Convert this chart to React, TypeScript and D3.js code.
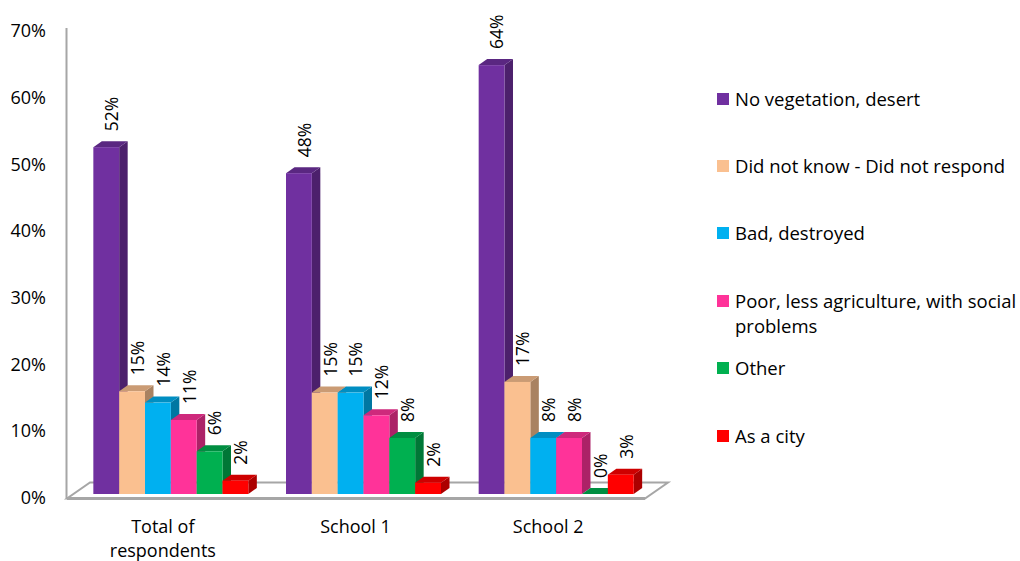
import React from "react";
import * as d3 from "d3";

const categories = ["Total of respondents", "School 1", "School 2"];
const categoryLines = [["Total of", "respondents"], ["School 1"], ["School 2"]];
const seriesNames = [
  "No vegetation, desert",
  "Did not know - Did not respond",
  "Bad, destroyed",
  "Poor, less agriculture, with social problems",
  "Other",
  "As a city",
];
const legendLines = [
  ["No vegetation, desert"],
  ["Did not know - Did not respond"],
  ["Bad, destroyed"],
  ["Poor, less agriculture, with social", "problems"],
  ["Other"],
  ["As a city"],
];
const seriesColors = ["#7030A0", "#FAC090", "#00B0F0", "#FF3399", "#00B050", "#FF0000"];
// values per category, in series order (percent)
const totalValues = [52, 15.4, 13.7, 11.1, 6.4, 2.0];
const school1Values = [48.1, 15.2, 15.2, 11.8, 8.4, 1.7];
const school2Values = [64.3, 16.8, 8.4, 8.4, 0, 2.9];
const valueLabels = [
  ["52%", "15%", "14%", "11%", "6%", "2%"],
  ["48%", "15%", "15%", "12%", "8%", "2%"],
  ["64%", "17%", "8%", "8%", "0%", "3%"],
];
const yTicks = [0, 10, 20, 30, 40, 50, 60, 70];

const W = 1020;
const H = 561;
const FONT = "'Open Sans', sans-serif";
const DX = 8.5;
const DY = 6;

export default function App() {
  const data = [totalValues, school1Values, school2Values];
  const y = d3.scaleLinear().domain([0, 70]).range([494, 27.1]);
  const x = d3
    .scaleBand<string>()
    .domain(categories)
    .range([74.5, 652.5])
    .paddingInner(0.1955)
    .paddingOuter(0.0978);
  const inner = d3
    .scaleBand<string>()
    .domain(seriesNames)
    .range([0, x.bandwidth()]);
  const bw = inner.bandwidth();

  // floor
  const fl = 67, fr = 645, fy = 498.5, by = 482.5, fdx = 23;

  const bars: React.ReactNode[] = [];
  const labels: React.ReactNode[] = [];
  categories.forEach((c, ci) => {
    seriesNames.forEach((s, si) => {
      const v = data[ci][si];
      const x0 = (x(c) as number) + (inner(s) as number);
      const x1 = x0 + bw;
      const yv = y(v);
      const y0 = y(0);
      const col = d3.color(seriesColors[si])!;
      const top = col.darker(0.6).formatHex();
      const side = col.darker(1.1).formatHex();
      bars.push(
        <g key={`b${ci}-${si}`}>
          <polygon
            points={`${x1},${yv} ${x1 + DX},${yv - DY} ${x1 + DX},${y0 - DY} ${x1},${y0}`}
            fill={side}
          />
          <polygon
            points={`${x0},${yv} ${x0 + DX},${yv - DY} ${x1 + DX},${yv - DY} ${x1},${yv}`}
            fill={top}
          />
          {v > 0 && <rect x={x0} y={yv} width={bw} height={y0 - yv} fill={seriesColors[si]} />}
        </g>
      );
      const lx = x0 + bw / 2 + 5.5;
      const ly = yv - DY - 10;
      labels.push(
        <text
          key={`l${ci}-${si}`}
          transform={`translate(${lx},${ly}) rotate(-90)`}
          dy="0.36em"
          fontSize={17.5}
          fontFamily={FONT}
          fill="#000"
        >
          {valueLabels[ci][si]}
        </text>
      );
    });
  });

  const legendRows = [106, 173, 240, 308, 375, 443];

  return (
    <svg width={W} height={H} style={{ position: "absolute", left: 0, top: 0, background: "#fff" }}>
      <rect width={W} height={H} fill="#fff" />
      {/* floor */}
      <polygon
        points={`${fl},${fy} ${fr},${fy} ${fr + fdx},${by} ${fl + fdx},${by}`}
        fill="#fff"
        stroke="#A6A6A6"
        strokeWidth={2}
      />
      <line x1={fl} x2={fr} y1={fy} y2={fy} stroke="#A6A6A6" strokeWidth={3} />
      {/* vertical axis */}
      <line x1={66.5} x2={66.5} y1={28} y2={fy} stroke="#A6A6A6" strokeWidth={2} />
      {yTicks.map((t) => (
        <text
          key={`t${t}`}
          x={46}
          y={y(t) + 10}
          textAnchor="end"
          fontSize={18}
          fontFamily={FONT}
          fill="#000"
        >
          {`${t}%`}
        </text>
      ))}
      {bars}
      {labels}
      {categories.map((c, ci) => (
        <text
          key={`c${ci}`}
          x={(x(c) as number) + x.bandwidth() / 2 - 8}
          y={533}
          textAnchor="middle"
          fontSize={18}
          fontFamily={FONT}
          fill="#000"
        >
          {categoryLines[ci].map((ln, li) => (
            <tspan key={li} x={(x(c) as number) + x.bandwidth() / 2 - 8} dy={li === 0 ? 0 : 24}>
              {ln}
            </tspan>
          ))}
        </text>
      ))}
      {/* legend */}
      {seriesNames.map((s, si) => (
        <g key={`lg${si}`}>
          <rect x={717} y={legendRows[si] - 13} width={12} height={12} fill={seriesColors[si]} />
          <text x={735} y={legendRows[si]} fontSize={18.5} fontFamily={FONT} fill="#000">
            {legendLines[si].map((ln, li) => (
              <tspan key={li} x={735} dy={li === 0 ? 0 : 25}>
                {ln}
              </tspan>
            ))}
          </text>
        </g>
      ))}
    </svg>
  );
}
